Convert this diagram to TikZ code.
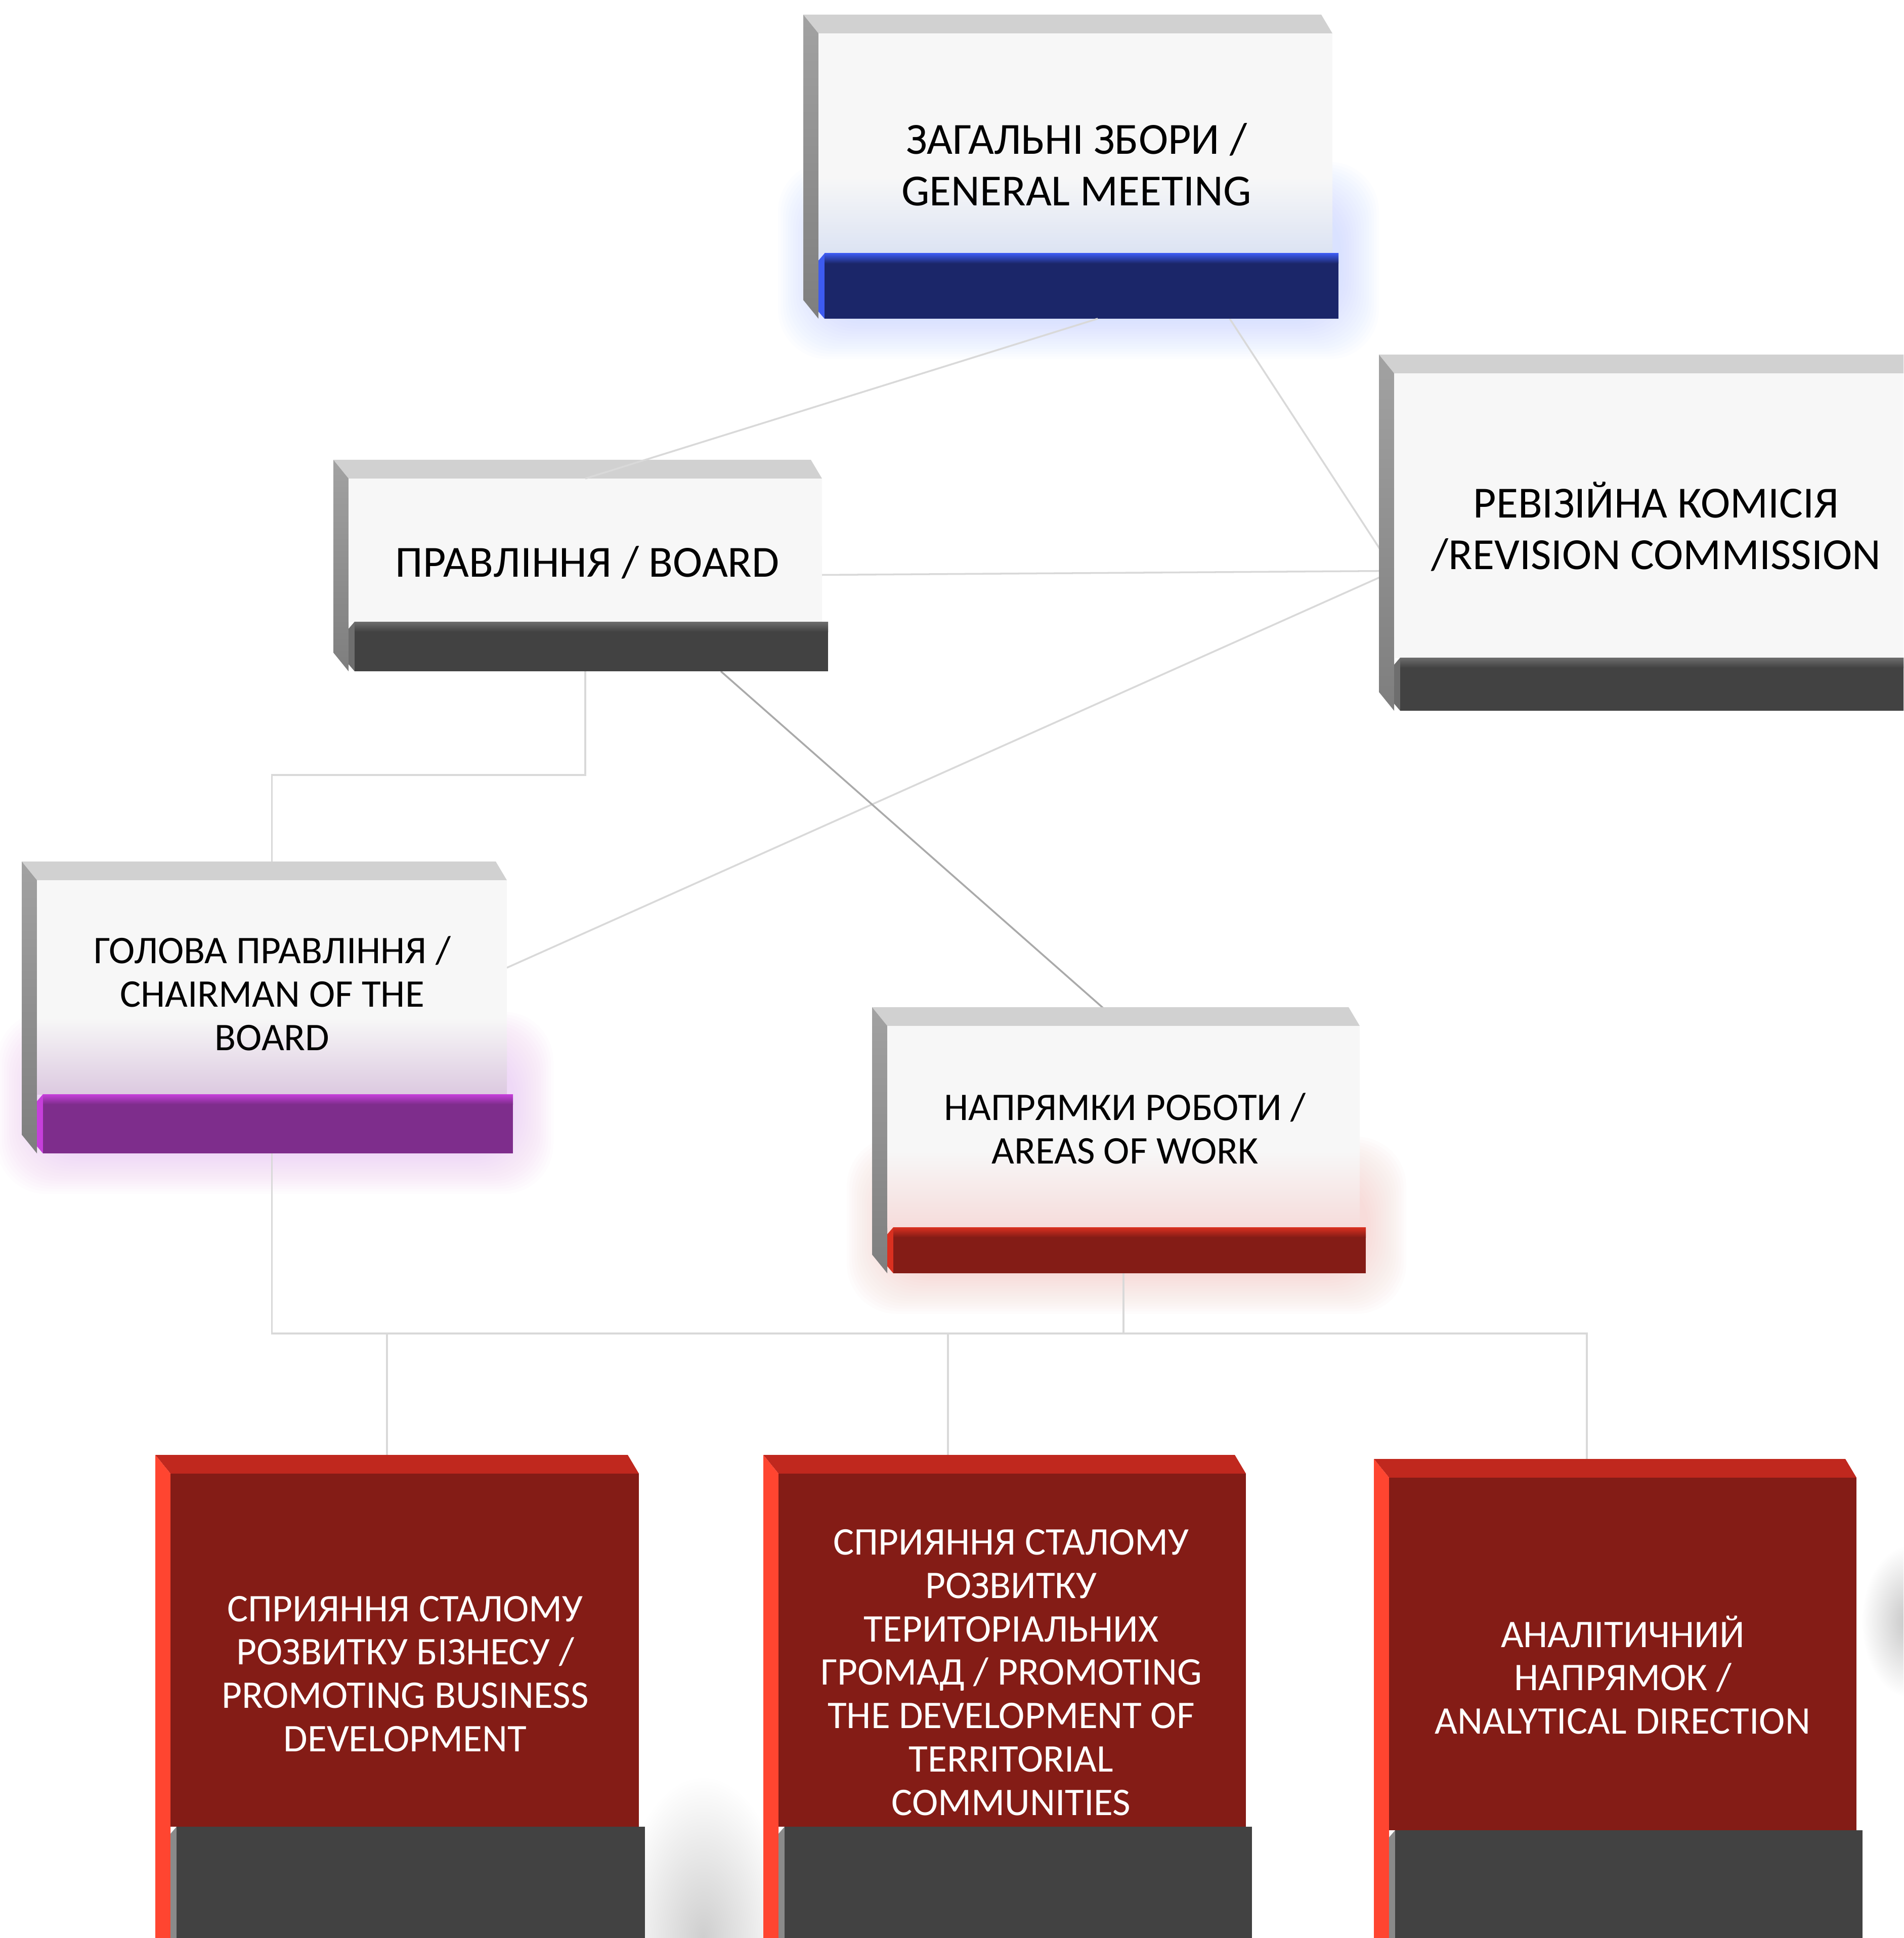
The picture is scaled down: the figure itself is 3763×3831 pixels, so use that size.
\documentclass[tikz,border=0pt]{standalone}
\usepackage{fontspec}
\setmainfont{Carlito}
\usetikzlibrary{calc,fit}

\definecolor{facewhite}{HTML}{F7F7F7}
\definecolor{topgray}{HTML}{D1D1D1}
\definecolor{sidelight}{HTML}{A2A2A2}
\definecolor{sidedark}{HTML}{7E7E7E}
\definecolor{navy}{HTML}{1B2669}
\definecolor{navyedge}{HTML}{3D5BF0}
\definecolor{tintblue}{HTML}{DCE3F3}
\definecolor{glowblue}{HTML}{A9C1FF}
\definecolor{darkbar}{HTML}{424242}
\definecolor{darkedge}{HTML}{6E6E6E}
\definecolor{purplebar}{HTML}{7E2D8C}
\definecolor{purpleedge}{HTML}{C63FDB}
\definecolor{tintpurple}{HTML}{DCC9E0}
\definecolor{glowpurple}{HTML}{E9A6F7}
\definecolor{redbar}{HTML}{841C16}
\definecolor{rededge}{HTML}{DA3020}
\definecolor{tintred}{HTML}{F6DCDB}
\definecolor{glowred}{HTML}{F8B0A8}
\definecolor{redtop}{HTML}{C0281E}
\definecolor{redside}{HTML}{FF4530}
\definecolor{baredge}{HTML}{8A8A8A}
\definecolor{linkgray}{HTML}{D9D9D9}
\definecolor{linkdark}{HTML}{AAAAAA}

\tikzstyle{boxgeom} = [inner sep=0pt, outer sep=0pt]
\tikzstyle{bigtext} = [font=\fontsize{25}{29}\selectfont, align=center, text=black]
\tikzstyle{smalltext} = [font=\fontsize{22}{24.4}\selectfont, align=center, text=black]
\tikzstyle{redtext} = [smalltext, text=white]
\tikzstyle{line} = [draw=linkgray, line width=1pt]

\begin{document}
\begin{tikzpicture}[x=0.1mm, y=-0.1mm]
  \useasboundingbox (0,0) rectangle (3763,3831);
  \clip (0,0) rectangle (3763,3831);
  \fill[white] (0,0) rectangle (3763,3831);
  % boxes (front face + bar)
  \node[boxgeom, fit={(1618,66) (2634,630)}] (gm) {};
  \node[boxgeom, fit={(689,946) (1625,1327)}] (board) {};
  \node[boxgeom, fit={(2756,738) (3900,1405)}] (rev) {};
  \node[boxgeom, fit={(73,1740) (1002,2280)}] (chair) {};
  \node[boxgeom, fit={(1754,2028) (2688,2517)}] (areas) {};
  \node[boxgeom, fit={(337,2913) (1263,3900)}] (business) {};
  \node[boxgeom, fit={(1539,2913) (2463,3900)}] (communities) {};
  \node[boxgeom, fit={(2746,2921) (3670,3900)}] (analytics) {};
  % glows and shadows
  \foreach \bx/\gc/\gh in {gm/glowblue/230, chair/glowpurple/200, areas/glowred/190}
    \foreach \r in {1,...,16}
      \fill[\gc, opacity=0.028, rounded corners=28pt]
        ($(\bx.south west)+(-\r*5,\r*5)$) rectangle ($(\bx.south east)+(\r*5+12,-\gh-\r*5)$);
  \shade[inner color=gray!38, outer color=white] (1390,3831) ellipse [x radius=170, y radius=320];
  \shade[inner color=gray!45, outer color=white] (3775,3205) ellipse [x radius=95, y radius=150];
  % edges
  \draw[line] ([xshift=30.5mm]gm.south) -- ([yshift=-5.7mm]rev.west);
  \draw[line] (board.east) -- ([yshift=-5.7mm]rev.west);
  \draw[line] ([yshift=9.7mm]chair.east) -- ([yshift=-5.7mm]rev.west);
  \draw[line] (board.south) -- ++(0,205) -| (chair.north);
  \draw[line, draw=linkdark] ([xshift=26.8mm]board.south) -- (areas.north);
  \coordinate (bus) at ([yshift=-11.9mm]areas.south);
  \coordinate (d1) at ([xshift=-3.5mm]business.north);
  \coordinate (d2) at ([xshift=-12.7mm]communities.north);
  \coordinate (d3) at ([xshift=-7.1mm]analytics.north);
  \draw[line] (chair.south) |- (bus -| d3) -- (d3);
  \draw[line] (areas.south) -- (bus);
  \draw[line] (d1 |- bus) -- (d1);
  \draw[line] (d2 |- bus) -- (d2);
  % white boxes
  \foreach \bx/\bh/\bc/\ec/\tc in {gm/129/navy/navyedge/tintblue, board/98/darkbar/darkedge/facewhite,
      rev/105/darkbar/darkedge/facewhite, chair/117/purplebar/purpleedge/tintpurple,
      areas/91/redbar/rededge/tintred}{
    \fill[topgray] ($(\bx.north west)+(-30,-37)$) -- ($(\bx.north east)+(-22,-37)$)
      -- (\bx.north east) -- (\bx.north west) -- cycle;
    \shade[top color=sidelight, bottom color=sidedark] ($(\bx.north west)+(-30,-37)$) -- (\bx.north west)
      -- (\bx.south west) -- ($(\bx.south west)+(-30,-37)$) -- cycle;
    \fill[facewhite] (\bx.north west) rectangle ($(\bx.south east)+(0,-\bh)$);
    \shade[top color=facewhite, bottom color=\tc] ($(\bx.south west)+(0,-\bh-150)$) rectangle ($(\bx.south east)+(0,-\bh)$);
    \fill[\ec] ($(\bx.south west)+(0,-\bh+14)$) -- ($(\bx.south west)+(12,-\bh)$)
      -- ($(\bx.south west)+(12,0)$) -- ($(\bx.south west)+(0,-14)$) -- cycle;
    \fill[\bc] ($(\bx.south west)+(12,-\bh)$) rectangle ($(\bx.south east)+(12,0)$);
    \shade[top color=\ec, bottom color=\bc] ($(\bx.south west)+(12,-\bh)$) rectangle ($(\bx.south east)+(12,-\bh+20)$);
  }
  % red boxes
  \foreach \bx/\bh in {business/289, communities/289, analytics/282}{
    \fill[redtop] ($(\bx.north west)+(-30,-37)$) -- ($(\bx.north east)+(-22,-37)$)
      -- (\bx.north east) -- (\bx.north west) -- cycle;
    \fill[redside] ($(\bx.north west)+(-30,-37)$) -- (\bx.north west)
      -- (\bx.south west) -- ($(\bx.south west)+(-30,-37)$) -- cycle;
    \fill[redbar] (\bx.north west) rectangle ($(\bx.south east)+(0,-\bh)$);
    \fill[baredge] ($(\bx.south west)+(0,-\bh+14)$) -- ($(\bx.south west)+(12,-\bh)$)
      -- ($(\bx.south west)+(12,0)$) -- ($(\bx.south west)+(0,-14)$) -- cycle;
    \fill[darkbar] ($(\bx.south west)+(12,-\bh)$) rectangle ($(\bx.south east)+(12,0)$);
  }
  % edge over the top face of the board
  \draw[line] ([xshift=4.4mm]gm.south) -- (board.north);
  % texts
  \node[bigtext] (gmtext) at (2128,325) {ЗАГАЛЬНІ ЗБОРИ /\\GENERAL MEETING};
  \node[bigtext] (boardtext) at (1161,1112) {ПРАВЛІННЯ / BOARD};
  \node[bigtext] (revtext) at (3274,1041) {РЕВІЗІЙНА КОМІСІЯ\\/REVISION COMMISSION};
  \node[smalltext] (chairtext) at (538,1964) {ГОЛОВА ПРАВЛІННЯ /\\CHAIRMAN OF THE\\BOARD};
  \node[smalltext] (areastext) at (2224,2231) {НАПРЯМКИ РОБОТИ /\\AREAS OF WORK};
  \node[redtext] (businesstext) at (801,3309) {СПРИЯННЯ СТАЛОМУ\\РОЗВИТКУ БІЗНЕСУ /\\PROMOTING BUSINESS\\DEVELOPMENT};
  \node[redtext] (communitiestext) at (1999,3306) {СПРИЯННЯ СТАЛОМУ\\РОЗВИТКУ\\ТЕРИТОРІАЛЬНИХ\\ГРОМАД / PROMOTING\\THE DEVELOPMENT OF\\TERRITORIAL\\COMMUNITIES};
  \node[redtext] (analyticstext) at (3208,3311) {АНАЛІТИЧНИЙ\\НАПРЯМОК /\\ANALYTICAL DIRECTION};
\end{tikzpicture}
\end{document}
